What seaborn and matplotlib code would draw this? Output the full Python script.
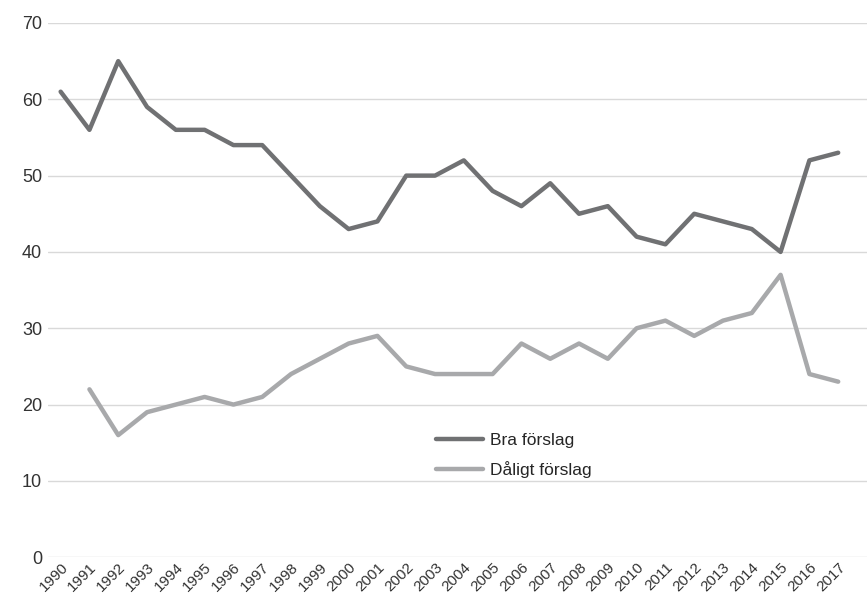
import numpy as np
import pandas as pd
import seaborn as sns
import matplotlib.pyplot as plt

# values
years = list(range(1990, 2018))
bra = [61, 56, 65, 59, 56, 56, 54, 54, 50, 46, 43, 44, 50, 50, 52, 48, 46, 49, 45, 46,
       42, 41, 45, 44, 43, 40, 52, 53]
daligt = [np.nan, 22, 16, 19, 20, 21, 20, 21, 24, 26, 28, 29, 25, 24, 24, 24, 28, 26, 28, 26,
          30, 31, 29, 31, 32, 37, 24, 23]
series_names = ["Bra förslag", "Dåligt förslag"]
colors = ["#707173", "#a8a9ab"]

df = pd.DataFrame({"År": years, series_names[0]: bra, series_names[1]: daligt})
long_df = df.melt(id_vars="År", var_name="Svar", value_name="Andel")

sns.set_style("white")
plt.rcParams['font.family'] = ['Liberation Sans', 'DejaVu Sans']

fig = plt.figure(figsize=(8.67, 6.05), dpi=100)
ax = fig.add_axes([0.055, 0.079, 0.945, 0.883])

sns.lineplot(data=long_df, x="År", y="Andel", hue="Svar", palette=colors,
             linewidth=3.2, ax=ax, legend=True)

ax.set_ylim(0, 70)
ax.set_xlim(1989.55, 2018.0)
ax.set_yticks(range(0, 71, 10))
ax.set_xticks(years)
ax.set_xticklabels([str(y) for y in years], rotation=45, ha="right",
                   rotation_mode="anchor", fontsize=11, color="#333333")
ax.tick_params(axis="y", labelsize=13, labelcolor="#333333", length=0, pad=4)
ax.tick_params(axis="x", length=0, pad=2)
ax.grid(axis="y", color="#d9d9d9", linewidth=1)
ax.set_axisbelow(True)
for s in ax.spines.values():
    s.set_visible(False)
ax.set_xlabel("")
ax.set_ylabel("")

leg = ax.legend(loc="upper left", bbox_to_anchor=(0.455, 0.262), frameon=False,
                fontsize=12.5, handlelength=2.7, handletextpad=0.4, labelspacing=0.75)
for line in leg.get_lines():
    line.set_linewidth(3.2)

fig.savefig("out.png", dpi=100)
